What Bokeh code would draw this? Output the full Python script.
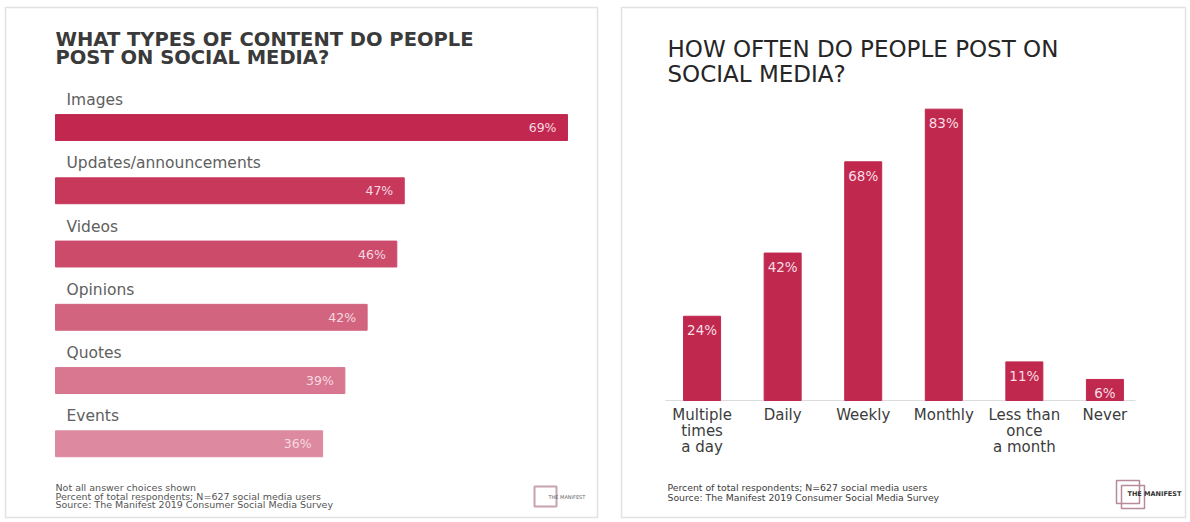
from bokeh.plotting import figure
from bokeh.layouts import row
from bokeh.models import Range1d, ColumnDataSource
from bokeh.core.properties import value
from bokeh.embed import file_html
from bokeh.resources import INLINE

# ---------------- data ----------------
content_types = ["Images", "Updates/announcements", "Videos", "Opinions", "Quotes", "Events"]
content_pct = [69, 47, 46, 42, 39, 36]

frequency = ["Multiple times a day", "Daily", "Weekly", "Monthly", "Less than once a month", "Never"]
frequency_pct = [24, 42, 68, 83, 11, 6]
frequency_ticks = ["Multiple\ntimes\na day", "Daily", "Weekly", "Monthly", "Less than\nonce\na month", "Never"]

left_title = ["WHAT TYPES OF CONTENT DO PEOPLE", "POST ON SOCIAL MEDIA?"]
left_notes = ["Not all answer choices shown",
              "Percent of total respondents; N=627 social media users",
              "Source: The Manifest 2019 Consumer Social Media Survey"]
right_title = ["HOW OFTEN DO PEOPLE POST ON", "SOCIAL MEDIA?"]
right_notes = ["Percent of total respondents; N=627 social media users",
               "Source: The Manifest 2019 Consumer Social Media Survey"]

# ---------------- styles ----------------
FONT = value("DejaVu Sans")
content_colors = ["#c2284f", "#c7385b", "#cc4b6b", "#d2647f", "#d8778f", "#dd8aa0"]
BAR_RIGHT = "#c1284e"
BORDER = "#e2e2e2"

# ---------------- left panel ----------------
# pixel geometry helpers (page pixels -> data units)
L_ZERO_PX, L_PX_PER_PCT = 55.0, 7.42
L_ROW0_PX, L_ROW_STEP = 125.5, 63.5
lx = lambda px: (px - L_ZERO_PX) / L_PX_PER_PCT
ly = lambda py: (py - L_ROW0_PX) / L_ROW_STEP

left = figure(width=613, height=522,
              x_range=Range1d(lx(5), lx(597)), y_range=Range1d(ly(517), ly(5)),
              x_axis_location=None, y_axis_location=None, toolbar_location=None,
              output_backend="svg", min_border_left=5, min_border_right=16,
              min_border_top=5, min_border_bottom=5,
              outline_line_color=BORDER, outline_line_width=1.5,
              background_fill_color="white", border_fill_color="white")
left.grid.visible = False

idx = list(range(len(content_types)))
lsrc = ColumnDataSource(dict(
    idx=idx, pct=content_pct, cat=content_types,
    lab=[f"{v}%" for v in content_pct], color=content_colors,
    laby=[i - 27.5 / L_ROW_STEP for i in idx]))

left.hbar(y="idx", left=0, right="pct", height=26 / L_ROW_STEP, color="color", source=lsrc)
left.text(x=lx(66), y="laby", text="cat", source=lsrc, text_font=FONT,
          text_font_size="15.5px", text_color="#606060", text_baseline="middle")
left.text(x="pct", y="idx", text="lab", source=lsrc, x_offset=-11, text_font=FONT,
          text_font_size="12.5px", text_color="#f6d9e0", text_align="right",
          text_baseline="middle")

left.text(x=[lx(55)] * 2, y=[ly(37), ly(55.5)], text=left_title, text_font=FONT,
          text_font_style="bold", text_font_size="19.5px", text_color="#3a3a3a",
          text_baseline="middle")
left.text(x=[lx(55)] * 3, y=[ly(487), ly(495.5), ly(504)], text=left_notes, text_font=FONT,
          text_font_size="9.5px", text_color="#555555", text_baseline="middle")

# logo (decoration)
left.quad(left=[lx(534)], right=[lx(556)], top=[ly(486)], bottom=[ly(506)],
          fill_color=None, line_color="#c7a2b0", line_width=2)
left.text(x=[lx(548)], y=[ly(496)], text=["THE MANIFEST"], text_font=FONT,
          text_font_size="5px", text_color="#666666", text_baseline="middle")

# ---------------- right panel ----------------
R_ZERO_PY, R_PX_PER_PCT = 400.0, 3.51
R_LEFT_PX, R_UNIT_PX = 621.0, 564.0 / 7.0
rx = lambda px: (px - R_LEFT_PX) / R_UNIT_PX - 1
ry = lambda py: (R_ZERO_PY - py) / R_PX_PER_PCT

right = figure(width=577, height=522,
               x_range=Range1d(-1, 6), y_range=Range1d(ry(517), ry(7)),
               x_axis_location=None, y_axis_location=None, toolbar_location=None,
               output_backend="svg", min_border_left=8, min_border_right=5,
               min_border_top=7, min_border_bottom=5,
               outline_line_color=BORDER, outline_line_width=1.5,
               background_fill_color="white", border_fill_color="white")
right.grid.visible = False

ridx = list(range(len(frequency)))
rsrc = ColumnDataSource(dict(
    idx=ridx, pct=frequency_pct, cat=frequency, tick=frequency_ticks,
    lab=[f"{v}%" for v in frequency_pct]))

right.segment(x0=rx(665), x1=rx(1135), y0=0, y1=0, line_color="#dcdcdc", line_width=1)
right.vbar(x="idx", top="pct", bottom=0, width=37 / R_UNIT_PX, color=BAR_RIGHT, source=rsrc)
right.text(x="idx", y="pct", text="lab", source=rsrc, y_offset=6, text_font=FONT,
           text_font_size="13.5px", text_color="#f6dde3", text_align="center",
           text_baseline="top")
right.text(x="idx", y=ry(405), text="tick", source=rsrc, text_font=FONT,
           text_font_size="15px", text_color="#3c3c3c", text_align="center",
           text_baseline="top", text_line_height=0.91)

right.text(x=[rx(667)] * 2, y=[ry(48), ry(73)], text=right_title, text_font=FONT,
           text_font_size="23px", text_color="#262626", text_baseline="middle")
right.text(x=[rx(667)] * 2, y=[ry(487), ry(497)], text=right_notes, text_font=FONT,
           text_font_size="9.3px", text_color="#3c3c3c", text_baseline="middle")

# logo (decoration)
right.quad(left=[rx(1116), rx(1121)], right=[rx(1139), rx(1144)],
           top=[ry(480), ry(485)], bottom=[ry(503), ry(508)],
           fill_color=None, line_color="#b78a9a", line_width=1.5)
right.text(x=[rx(1127)], y=[ry(493)], text=["THE MANIFEST"], text_font=FONT,
           text_font_style="bold", text_font_size="6.5px", text_color="#333333",
           text_baseline="middle")

layout = row(left, right)
open("out.html", "w").write(file_html(layout, INLINE))
